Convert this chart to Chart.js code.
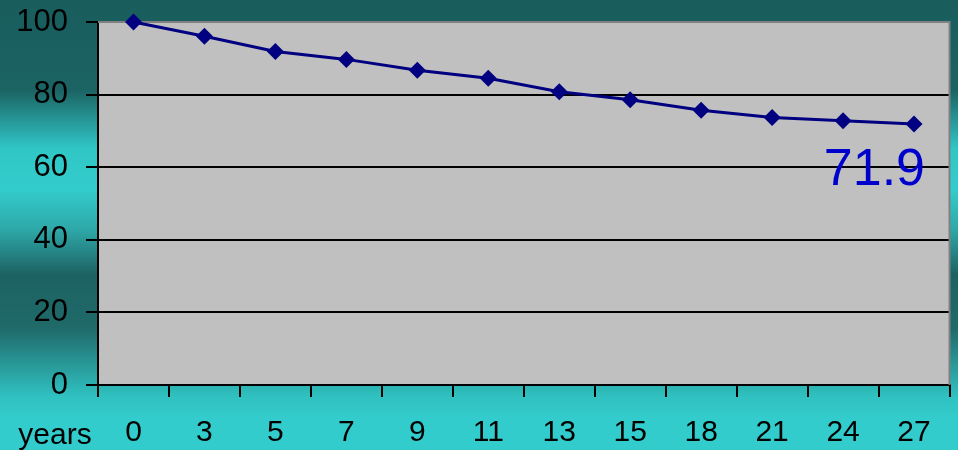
<!DOCTYPE html>
<html>
<head>
<meta charset="utf-8">
<style>
  html, body { margin: 0; padding: 0; background: #1b5e5e; }
  canvas { display: block; }
</style>
<script src="https://cdn.jsdelivr.net/npm/chart.js@4.4.1/dist/chart.umd.min.js"></script>
</head>
<body>
<canvas id="c" width="958" height="450"></canvas>
<script>
// Follow-up years and the remaining share (%) at each one
const years = ['0', '3', '5', '7', '9', '11', '13', '15', '18', '21', '24', '27'];
const share = [100, 96.1, 91.9, 89.7, 86.7, 84.5, 80.8, 78.6, 75.7, 73.7, 72.8, 71.9];
const yTicks = [0, 20, 40, 60, 80, 100];
const axisTitle = 'years';

const FONT = '"Liberation Sans", Arial, sans-serif';

// Slide-style banded backdrop and grey plotting panel
const backdrop = {
  id: 'backdrop',
  beforeDraw(chart) {
    const { ctx, width, height, chartArea: a } = chart;
    const g = ctx.createLinearGradient(0, 0, 0, height);
    g.addColorStop(0.00, '#195d5d');
    g.addColorStop(0.20, '#1c6363');
    g.addColorStop(0.33, '#30c6c6');
    g.addColorStop(0.42, '#33cccc');
    g.addColorStop(0.51, '#2ea8a8');
    g.addColorStop(0.61, '#1d6262');
    g.addColorStop(0.73, '#206a6a');
    g.addColorStop(0.88, '#30c0c0');
    g.addColorStop(0.93, '#33cccc');
    g.addColorStop(1.00, '#33cccc');
    ctx.save();
    ctx.fillStyle = g;
    ctx.fillRect(0, 0, width, height);
    ctx.fillStyle = '#c0c0c0';
    ctx.fillRect(a.left, a.top, a.right - a.left, a.bottom - a.top);
    ctx.restore();
  },
  beforeDatasetsDraw(chart) {
    const { ctx, chartArea: a } = chart;
    ctx.save();
    // grey frame on the top and right of the panel
    ctx.strokeStyle = '#808080';
    ctx.lineWidth = 2;
    ctx.beginPath();
    ctx.moveTo(a.left, a.top);
    ctx.lineTo(a.right, a.top);
    ctx.lineTo(a.right, a.bottom);
    ctx.stroke();
    ctx.restore();
  },
  afterDraw(chart) {
    const { ctx } = chart;
    ctx.save();
    // axis caption left of the year labels
    ctx.fillStyle = '#000';
    ctx.font = '30px ' + FONT;
    ctx.textAlign = 'center';
    ctx.textBaseline = 'alphabetic';
    ctx.fillText(axisTitle, 55, 444);
    ctx.restore();
  }
};

// Large value callout under the last point
const lastValue = {
  id: 'lastValue',
  afterDatasetsDraw(chart) {
    const meta = chart.getDatasetMeta(0);
    const i = share.length - 1;
    const pt = meta.data[i];
    const { ctx } = chart;
    ctx.save();
    ctx.fillStyle = '#0000cc';
    ctx.font = '52px ' + FONT;
    ctx.textAlign = 'right';
    ctx.textBaseline = 'alphabetic';
    ctx.fillText(share[i].toFixed(1), pt.x + 11, pt.y + 61);
    ctx.restore();
  }
};

new Chart(document.getElementById('c'), {
  type: 'line',
  data: {
    labels: years,
    datasets: [{
      data: share,
      borderColor: '#000080',
      borderWidth: 3,
      backgroundColor: '#000080',
      pointStyle: 'rectRot',
      pointRadius: 8.5,
      pointHoverRadius: 8.5,
      pointBorderWidth: 0,
      pointHoverBorderWidth: 0,
      pointBackgroundColor: '#000080',
      tension: 0,
      fill: false,
      clip: false
    }]
  },
  options: {
    responsive: false,
    animation: false,
    events: [],
    layout: { padding: { top: 22, right: 8, left: 0, bottom: 0 } },
    plugins: {
      legend: { display: false },
      tooltip: { enabled: false }
    },
    scales: {
      x: {
        type: 'category',
        offset: true,
        afterFit(s) {
          s.height = 65;
          s.paddingLeft = 0;
          s.paddingRight = 0;
        },
        grid: {
          offset: true,
          drawOnChartArea: false,
          drawTicks: true,
          tickLength: 12,
          color: '#000',
          tickColor: '#000',
          lineWidth: 2
        },
        border: { display: true, color: '#000', width: 2 },
        ticks: {
          color: '#000',
          font: { family: FONT, size: 30 },
          padding: 18,
          maxRotation: 0,
          autoSkip: false
        }
      },
      y: {
        min: 0,
        max: 100,
        afterFit(s) { s.width = 98; },
        afterBuildTicks(s) { s.ticks = yTicks.map(v => ({ value: v })); },
        grid: {
          drawTicks: true,
          tickLength: 12,
          color: (c) => (c.tick && c.tick.value === 100 ? '#808080' : '#000'),
          tickColor: '#000',
          lineWidth: 2
        },
        border: { display: true, color: '#000', width: 2 },
        ticks: {
          color: '#000',
          font: { family: FONT, size: 31, lineHeight: 0.1 },
          padding: 18
        }
      }
    }
  },
  plugins: [backdrop, lastValue]
});
</script>
</body>
</html>
